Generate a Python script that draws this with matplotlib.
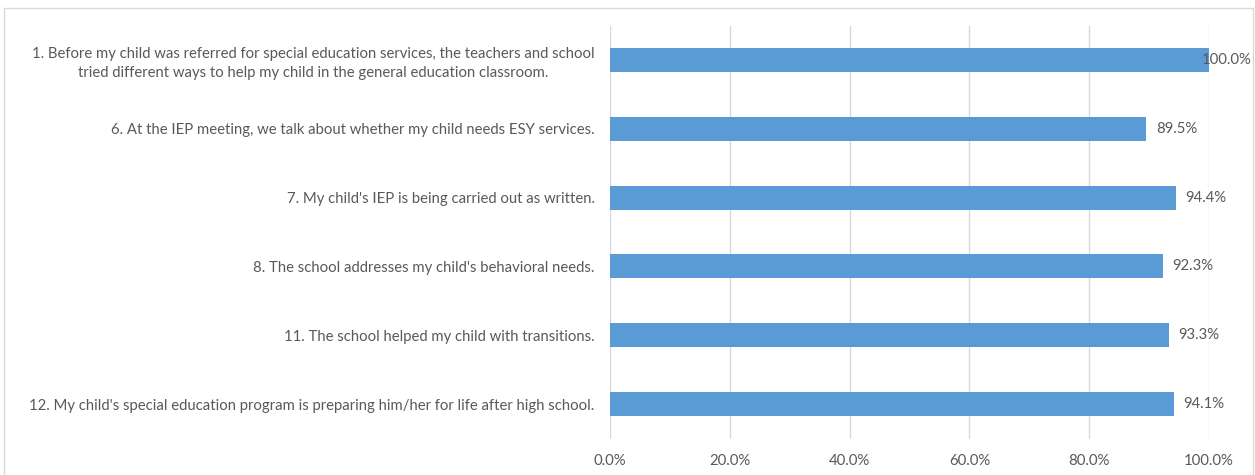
import matplotlib.pyplot as plt
from matplotlib.patches import Rectangle

# survey items, top to bottom
questions = [
    "1. Before my child was referred for special education services, the teachers and school\n"
    "tried different ways to help my child in the general education classroom.",
    "6. At the IEP meeting, we talk about whether my child needs ESY services.",
    "7. My child's IEP is being carried out as written.",
    "8. The school addresses my child's behavioral needs.",
    "11. The school helped my child with transitions.",
    "12. My child's special education program is preparing him/her for life after high school.",
]
agree_pct = [100.0, 89.5, 94.4, 92.3, 93.3, 94.1]
x_ticks = [0, 20, 40, 60, 80, 100]

txt_color = "#595959"
bar_color = "#5b9bd5"
fs = 10.75

plt.rcParams['font.family'] = ['Lato', 'DejaVu Sans']

fig = plt.figure(figsize=(12.55, 4.75), dpi=100)
ax = fig.add_axes([0.486, 0.0768, 0.4774, 0.8695])

pos = list(range(len(questions)))
ax.barh(pos, agree_pct, height=0.35, color=bar_color, zorder=3)
for p, v in zip(pos, agree_pct):
    ax.annotate(f"{v:.1f}%", (v, p), xytext=(-5 if v >= 100 else 7, 0),
                textcoords="offset points", va="center", ha="left",
                fontsize=fs, color=txt_color, zorder=4)

ax.set_ylim(len(questions) - 0.5, -0.5)
ax.set_xlim(0, 100)
ax.set_yticks(pos)
ax.set_yticklabels(questions, fontsize=fs, color=txt_color,
                   multialignment="center", linespacing=1.45)
ax.tick_params(axis="y", length=0, pad=11)
ax.set_xticks(x_ticks)
ax.set_xticklabels([f"{t:.1f}%" for t in x_ticks], fontsize=fs, color=txt_color)
ax.tick_params(axis="x", length=0, pad=11)
ax.grid(axis="x", color="#d9d9d9", linewidth=1, zorder=0)
for s in ax.spines.values():
    s.set_visible(False)

# chart area border
fig.patches.append(Rectangle((4 / 1255, -0.01), 1249 / 1255, 1 - 8 / 475 + 0.01,
                             transform=fig.transFigure, fill=False,
                             edgecolor="#d9d9d9", linewidth=1))

fig.savefig("out.png", dpi=100)
